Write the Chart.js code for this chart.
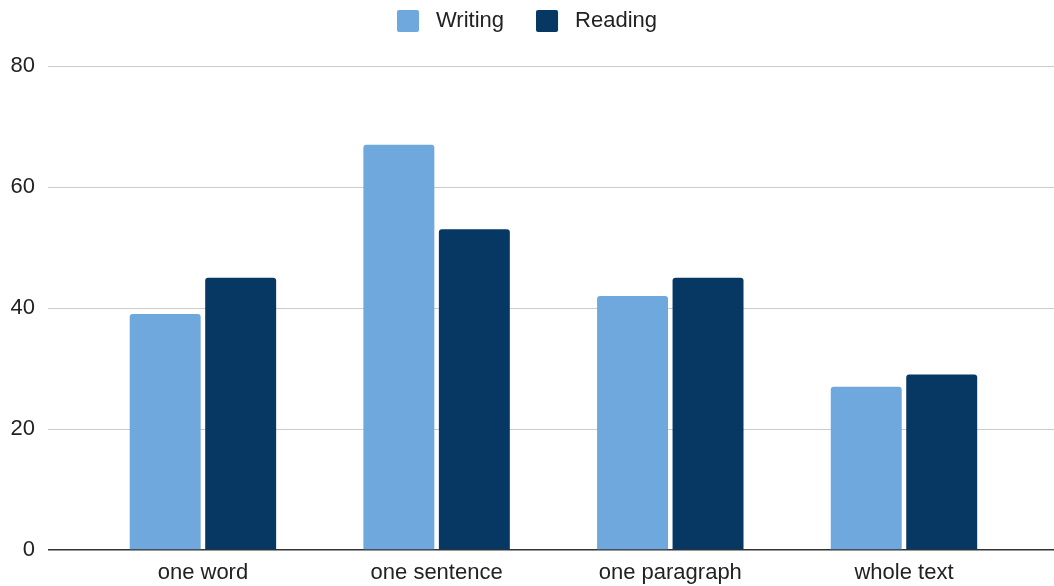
<!DOCTYPE html>
<html>
<head>
<meta charset="utf-8">
<script src="https://cdn.jsdelivr.net/npm/chart.js@4"></script>
<style>
html,body{margin:0;padding:0;background:#fff;}
#wrap{width:1054px;height:586px;position:relative;}
</style>
</head>
<body>
<div id="wrap"><canvas id="c"></canvas></div>
<script>
const categories = ["one word", "one sentence", "one paragraph", "whole text"];
const writing = [39, 67, 42, 27];
const reading = [45, 53, 45, 29];
const yTicks = [0, 20, 40, 60, 80];
const seriesColors = ['#6fa8dc', '#073763'];

const FONT = "'Liberation Sans', Arial, sans-serif";

function swatch(color) {
  const cv = document.createElement('canvas');
  cv.width = 28; cv.height = 22;
  const g = cv.getContext('2d');
  g.fillStyle = color;
  g.beginPath();
  if (g.roundRect) g.roundRect(0, 0, 22, 22, 2); else g.rect(0, 0, 22, 22);
  g.fill();
  return cv;
}
const swatches = seriesColors.map(swatch);

const legendHeightPlugin = {
  id: 'legendHeight',
  afterInit(chart) {
    const lg = chart.legend;
    if (lg) {
      const orig = lg.fit.bind(lg);
      lg.fit = function () { orig(); this.height = 88; };
    }
  }
};

new Chart(document.getElementById('c'), {
  type: 'bar',
  data: {
    datasets: [
      { label: 'Writing', data: categories.map((c, i) => ({ x: i, y: writing[i] })), backgroundColor: seriesColors[0], borderRadius: 3, borderSkipped: 'start' },
      { label: 'Reading', data: categories.map((c, i) => ({ x: i, y: reading[i] })), backgroundColor: seriesColors[1], borderRadius: 3, borderSkipped: 'start' }
    ]
  },
  plugins: [legendHeightPlugin],
  options: {
    responsive: true,
    maintainAspectRatio: false,
    animation: false,
    categoryPercentage: 0.646,
    barPercentage: 0.94,
    layout: { padding: { top: -22, left: 0, right: 0, bottom: 0 } },
    plugins: {
      legend: {
        position: 'top',
        labels: {
          font: { family: FONT, size: 22 },
          color: '#222',
          usePointStyle: true,
          pointStyleWidth: 28,
          boxHeight: 22,
          padding: 32,
          generateLabels(chart) {
            const items = Chart.defaults.plugins.legend.labels.generateLabels(chart);
            items.forEach((it, i) => { it.pointStyle = swatches[i]; });
            return items;
          }
        }
      },
      tooltip: { enabled: false }
    },
    scales: {
      x: {
        type: 'linear',
        min: -0.663,
        max: 3.642,
        offset: false,
        afterBuildTicks(scale) { scale.ticks = categories.map((c, i) => ({ value: i })); },
        afterFit(scale) { scale.height = 36; },
        grid: { display: false, drawTicks: false },
        border: { display: false },
        ticks: {
          autoSkip: false,
          maxRotation: 0,
          padding: 10,
          color: '#222',
          font: { family: FONT, size: 22 },
          callback: (v) => categories[v]
        }
      },
      y: {
        min: 0,
        max: 80,
        afterBuildTicks(scale) { scale.ticks = yTicks.map(v => ({ value: v })); },
        afterFit(scale) { scale.width = 48; },
        grid: {
          drawTicks: false,
          color: (ctx) => ctx.tick && ctx.tick.value === 0 ? '#333' : '#cccccc',
          lineWidth: (ctx) => ctx.tick && ctx.tick.value === 0 ? 1.5 : 1
        },
        border: { display: false },
        ticks: {
          padding: 13,
          color: '#222',
          font: { family: FONT, size: 22 }
        }
      }
    }
  }
});
</script>
</body>
</html>
